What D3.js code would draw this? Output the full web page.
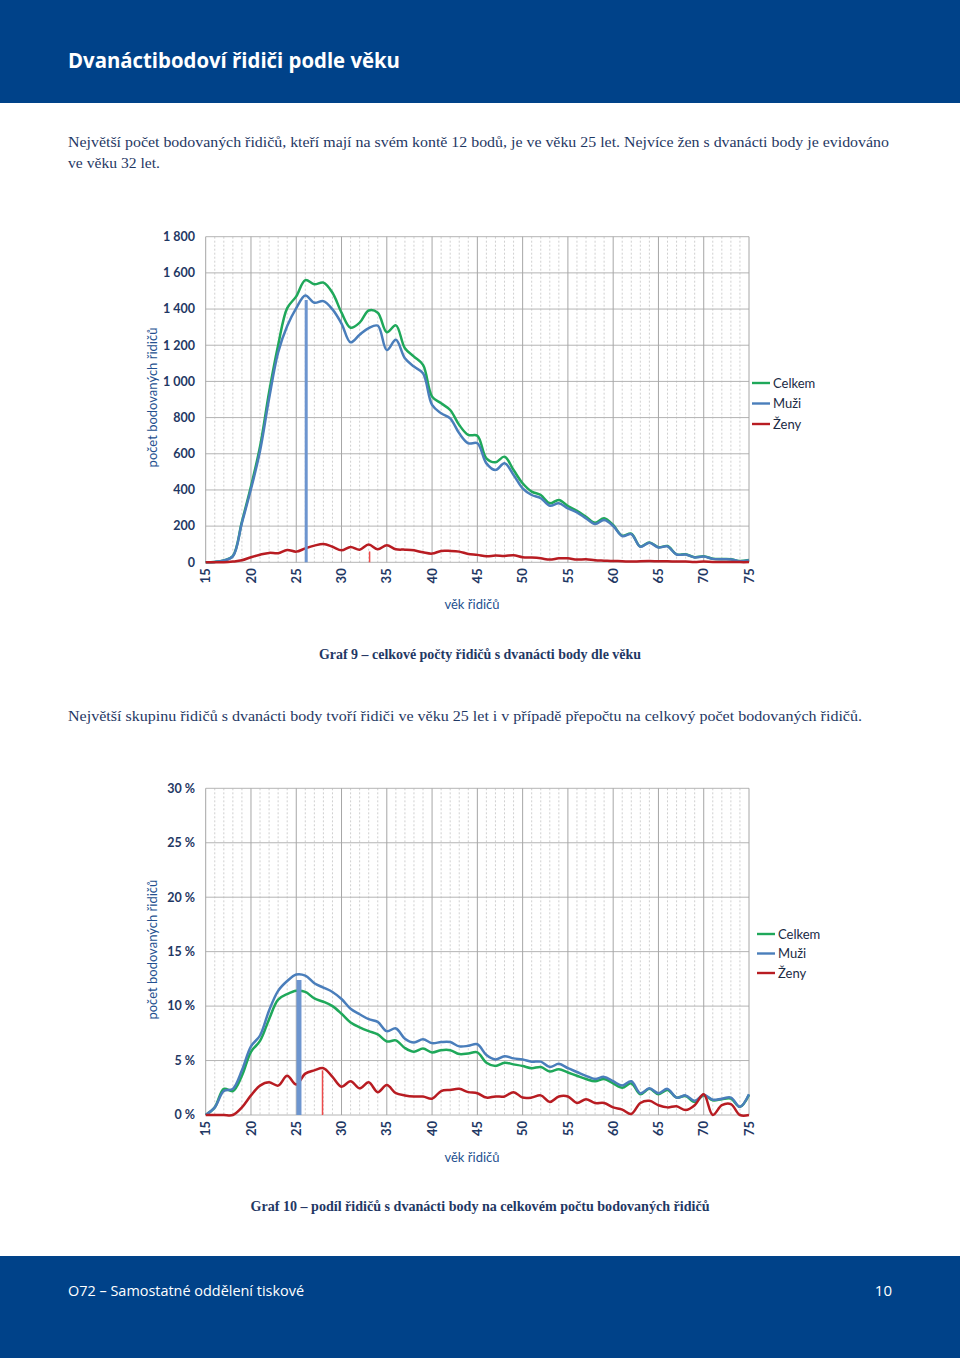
<!DOCTYPE html>
<html><head><meta charset="utf-8">
<script src="https://cdn.jsdelivr.net/npm/d3@7"></script>
<style>html,body{margin:0;padding:0;background:#fff}svg{display:block}</style>
</head><body>
<svg id="page" width="960" height="1358"></svg>
<script>
// ---------- DATA ----------
const ages = [15,16,17,18,19,20,21,22,23,24,25,26,27,28,29,30,31,32,33,34,35,36,37,38,39,40,41,42,43,44,45,46,47,48,49,50,51,52,53,54,55,56,57,58,59,60,61,62,63,64,65,66,67,68,69,70,71,72,73,74,75];
const seriesNames = ["Celkem","Muži","Ženy"];

// Graf 9 - counts
const celkemCount = [0,2,10,35,225,420,640,940,1200,1405,1470,1560,1537,1546,1490,1380,1297,1325,1392,1380,1272,1310,1183,1137,1091,916,879,842,759,704,700,575,553,584,510,437,391,372,326,345,311,284,252,219,243,206,147,158,87,110,83,90,44,44,28,33,20,18,17,7,13];
const muziCount   = [0,2,10,33,218,405,615,905,1160,1306,1405,1475,1435,1444,1398,1320,1216,1258,1295,1308,1173,1230,1128,1082,1045,870,824,796,713,658,658,547,510,547,483,409,372,355,313,326,298,276,243,212,234,201,145,156,86,108,82,88,43,43,27,32,19,17,16,6,12];
const zenyCount   = [0,0,0,4,11,28,42,52,50,68,59,77,92,101,86,66,85,70,98,72,94,72,70,66,55,48,63,63,59,46,41,33,37,35,39,28,26,22,15,22,22,15,17,11,9,7,6,4,6,7,6,6,4,4,2,4,2,2,2,1,1];

// Graf 10 - share in %
const celkemPct = [0,0.7,2.4,2.2,3.6,5.8,6.8,8.8,10.6,11.1,11.4,11.3,10.7,10.4,10.0,9.3,8.5,8.05,7.7,7.4,6.75,6.85,6.15,5.8,6.1,5.75,5.95,5.95,5.6,5.65,5.75,4.8,4.5,4.8,4.65,4.5,4.3,4.4,4.0,4.2,3.9,3.6,3.3,3.1,3.3,2.9,2.5,2.9,1.9,2.4,1.9,2.3,1.6,1.75,1.2,1.8,1.35,1.45,1.5,0.75,1.85];
const muziPct   = [0,0.7,2.2,2.4,4.1,6.3,7.3,9.6,11.4,12.3,12.9,12.8,12.1,11.7,11.3,10.65,9.75,9.25,8.8,8.55,7.7,7.95,7.0,6.65,6.95,6.6,6.7,6.7,6.3,6.35,6.5,5.5,5.1,5.4,5.2,5.1,4.9,4.9,4.4,4.7,4.3,3.95,3.6,3.3,3.5,3.1,2.7,3.1,2.0,2.45,2.0,2.4,1.6,1.8,1.3,1.85,1.4,1.5,1.6,0.75,1.9];
const zenyPct   = [0,0,0,0,0.7,1.8,2.7,3.0,2.7,3.6,2.8,3.8,4.1,4.3,3.5,2.6,3.1,2.45,3.0,2.1,2.75,2.0,1.8,1.7,1.7,1.5,2.2,2.3,2.4,2.1,2.0,1.6,1.7,1.7,2.1,1.6,1.6,1.8,1.2,1.7,1.7,1.1,1.45,1.1,1.1,0.7,0.5,0.1,1.1,1.3,0.9,0.7,0.8,0.45,0.9,1.9,0,0.9,1.0,0,0];

// highlight markers (age, value, series)
const marks9  = [{age:26.1, value:1450, s:"Muži"},{age:33.1, value:60, s:"Ženy"}];
const marks10 = [{age:25.3, value:12.4, s:"Muži"},{age:27.9, value:4.1, s:"Ženy"}];

const xTickLabels = [15,20,25,30,35,40,45,50,55,60,65,70,75];
const yTicks9  = [0,200,400,600,800,1000,1200,1400,1600,1800];
const yTicks10 = [0,5,10,15,20,25,30];

// ---------- STYLE ----------
const NAVY = "#004289";
const TEXT = "#1f3864";
const colors = {"Celkem":"#1fa85a","Muži":"#4a7ebb","Ženy":"#b81c22"};
const markColors = {"Muži":"#6d95cf","Ženy":"#ee4b4b"};

const svg = d3.select("#page");

// header & footer bands
svg.append("rect").attr("x",0).attr("y",0).attr("width",960).attr("height",103).attr("fill",NAVY);
svg.append("rect").attr("x",0).attr("y",1256).attr("width",960).attr("height",102).attr("fill",NAVY);

function txt(s, x, y, o) {
  const t = svg.append("text").attr("x",x).attr("y",y).text(s)
    .attr("font-family", o.font).attr("font-size", o.size).attr("fill", o.fill || TEXT)
    .attr("font-weight", o.weight || "normal").attr("text-anchor", o.anchor || "start");
  if (o.len) t.attr("textLength", o.len).attr("lengthAdjust","spacingAndGlyphs");
  return t;
}
const SANS = "'Open Sans', 'Noto Sans', sans-serif";
const SERIF = "'Liberation Serif', 'DejaVu Serif', serif";
const CAL = "Lato, 'Noto Sans', sans-serif";

txt("Dvanáctibodoví řidiči podle věku", 68, 68, {font:SANS, size:21, weight:"bold", fill:"#fff", len:332});
txt("Největší počet bodovaných řidičů, kteří mají na svém kontě 12 bodů, je ve věku 25 let. Nejvíce žen s dvanácti body je evidováno", 68, 147, {font:SERIF, size:15.5, len:821});
txt("ve věku 32 let.", 68, 168, {font:SERIF, size:15.5, len:92});
txt("Graf 9 – celkové počty řidičů s dvanácti body dle věku", 480, 659, {font:SERIF, size:14, weight:"bold", anchor:"middle", len:322});
txt("Největší skupinu řidičů s dvanácti body tvoří řidiči ve věku 25 let i v případě přepočtu na celkový počet bodovaných řidičů.", 68, 721, {font:SERIF, size:15.5, len:794});
txt("Graf 10 – podíl řidičů s dvanácti body na celkovém počtu bodovaných řidičů", 480, 1211, {font:SERIF, size:14, weight:"bold", anchor:"middle", len:459});
txt("O72 – Samostatné oddělení tiskové", 68, 1296, {font:SANS, size:15, fill:"#fff", len:236});
txt("10", 892, 1296, {font:SANS, size:15, fill:"#fff", anchor:"end"});

function drawChart(cfg) {
  const x = d3.scaleLinear().domain([15,75]).range([205.7, 749]);
  const y = d3.scaleLinear().domain([0, cfg.yMax]).range([cfg.bottom, cfg.top]);
  const g = svg.append("g");

  // minor vertical dashed grid
  g.selectAll("line.minor").data(ages.filter(a => a % 5 !== 0)).join("line")
    .attr("x1", d => x(d)).attr("x2", d => x(d)).attr("y1", cfg.top).attr("y2", cfg.bottom)
    .attr("stroke","#c4c4c4").attr("stroke-width",0.8).attr("stroke-dasharray","2,2");
  // horizontal grid
  g.selectAll("line.h").data(cfg.yTicks).join("line")
    .attr("x1", 205.7).attr("x2", 749).attr("y1", d => y(d)).attr("y2", d => y(d))
    .attr("stroke","#b4b4b4").attr("stroke-width",1);
  // major vertical grid
  g.selectAll("line.major").data(xTickLabels).join("line")
    .attr("x1", d => x(d)).attr("x2", d => x(d)).attr("y1", cfg.top).attr("y2", cfg.bottom)
    .attr("stroke","#a6a6a6").attr("stroke-width",1);

  // y tick labels
  g.selectAll("text.yt").data(cfg.yTicks).join("text")
    .attr("x", 195).attr("y", d => y(d)).attr("dy","0.35em")
    .attr("text-anchor","end").attr("font-family",CAL).attr("font-weight","bold")
    .attr("font-size",12.5).attr("fill",TEXT).text(cfg.fmt);
  // x tick labels rotated
  g.selectAll("text.xt").data(xTickLabels).join("text")
    .attr("transform", d => `translate(${x(d)},${cfg.bottom + 6}) rotate(-90)`)
    .attr("dy","0.36em").attr("text-anchor","end")
    .attr("font-family",CAL).attr("font-weight","bold").attr("font-size",13).attr("fill",TEXT)
    .text(d => d);
  // axis titles
  g.append("text").attr("transform", `translate(157,${(cfg.top + cfg.bottom)/2 - 2}) rotate(-90)`)
    .attr("text-anchor","middle").attr("font-family",CAL).attr("font-size",13).attr("fill","#24508f")
    .text("počet bodovaných řidičů");
  g.append("text").attr("x", 472).attr("y", cfg.bottom + 47)
    .attr("text-anchor","middle").attr("font-family",CAL).attr("font-size",13).attr("fill","#24508f")
    .text("věk řidičů");

  // lines
  const line = d3.line().x((d,i) => x(ages[i])).y(d => y(d)).curve(d3.curveCatmullRom.alpha(0.5));
  cfg.series.forEach((vals, k) => {
    g.append("path").attr("d", line(vals)).attr("fill","none")
      .attr("stroke", colors[seriesNames[k]]).attr("stroke-width",2.5)
      .attr("stroke-linejoin","round");
  });

  // highlight markers
  g.selectAll("line.mk").data(cfg.marks).join("line")
    .attr("x1", d => x(d.age)).attr("x2", d => x(d.age))
    .attr("y1", cfg.bottom).attr("y2", d => y(d.value))
    .attr("stroke", d => markColors[d.s]).attr("stroke-width", d => d.s === "Muži" ? cfg.mw : 1.5);

  // legend
  seriesNames.forEach((n, i) => {
    const ly = cfg.legY + i * cfg.legStep;
    g.append("line").attr("x1", cfg.legX).attr("x2", cfg.legX + 18).attr("y1", ly).attr("y2", ly)
      .attr("stroke", colors[n]).attr("stroke-width",2.4);
    g.append("text").attr("x", cfg.legX + 21).attr("y", ly).attr("dy","0.35em")
      .attr("font-family",CAL).attr("font-size",13).attr("fill","#1a2a44").text(n);
  });
}

drawChart({top:236.7, bottom:562.3, yMax:1800, yTicks:yTicks9,
  fmt: d => d3.format(",")(d).replace(/,/g, "\u00a0"),
  series:[celkemCount, muziCount, zenyCount], marks:marks9, mw:3,
  legX:752, legY:383, legStep:20.5});

drawChart({top:788.3, bottom:1115, yMax:30, yTicks:yTicks10,
  fmt: d => d + " %",
  series:[celkemPct, muziPct, zenyPct], marks:marks10, mw:5,
  legX:757, legY:934, legStep:19.5});
</script>
</body></html>
